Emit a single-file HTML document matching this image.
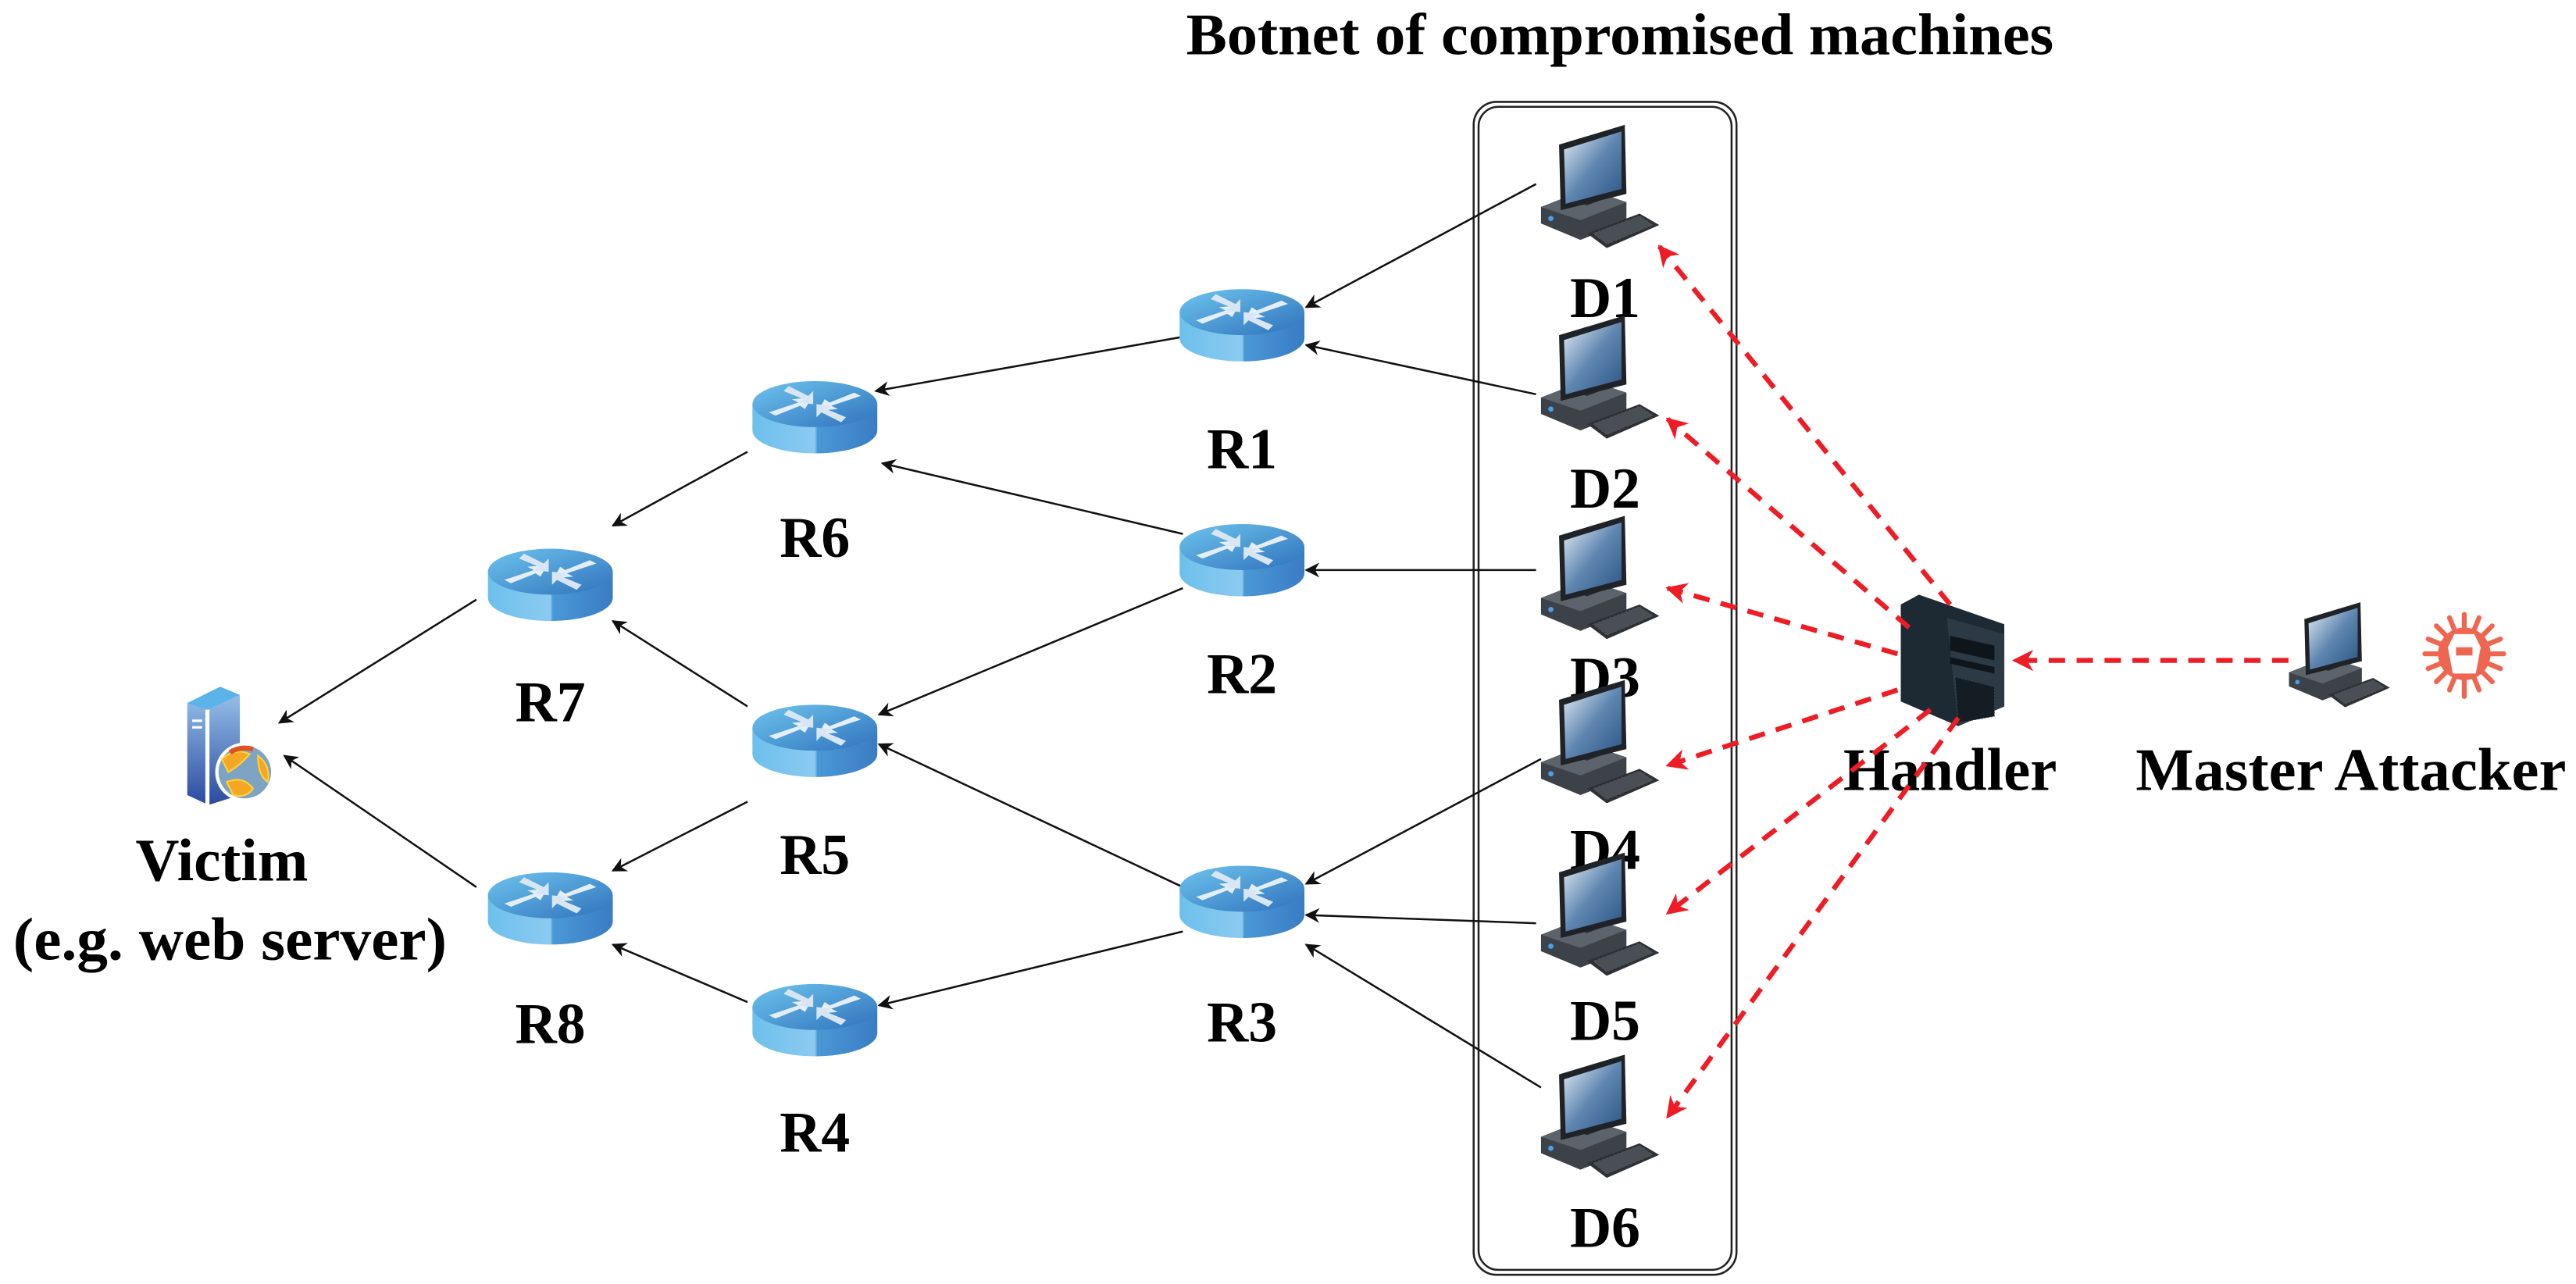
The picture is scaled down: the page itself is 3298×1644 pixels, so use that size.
<!DOCTYPE html>
<html><head><meta charset="utf-8"><style>
html,body{margin:0;padding:0;background:#fff;}
svg{display:block;}
text{font-family:"Liberation Serif",serif;font-weight:bold;fill:#000;}
</style></head><body>
<svg width="3298" height="1644" viewBox="0 0 1568 781.6" xmlns="http://www.w3.org/2000/svg">
<defs>
<linearGradient id="rb" x1="0" x2="1" y1="0" y2="0">
<stop offset="0" stop-color="#6cc0ec"/><stop offset="0.5" stop-color="#8ccaf0"/><stop offset="0.52" stop-color="#4a98d6"/><stop offset="1" stop-color="#3a7cc4"/></linearGradient>
<linearGradient id="rt" x1="0" x2="1" y1="0" y2="1">
<stop offset="0" stop-color="#6ec4ee"/><stop offset="1" stop-color="#2f72bc"/></linearGradient>
<linearGradient id="scr" x1="0" x2="1" y1="0" y2="1">
<stop offset="0" stop-color="#e6eef6"/><stop offset="0.5" stop-color="#5f86b0"/><stop offset="1" stop-color="#2b5586"/></linearGradient>
<linearGradient id="srv" x1="0" x2="0" y1="0" y2="1">
<stop offset="0" stop-color="#9cc8ee"/><stop offset="1" stop-color="#2a4aa0"/></linearGradient>
<symbol id="router" viewBox="-40 -24 80 48" overflow="visible">
<path d="M-38,-7 L-38,9 A38,14 0 0 0 38,9 L38,-7 Z" fill="url(#rb)"/>
<ellipse cx="0" cy="-7" rx="38" ry="14" fill="url(#rt)"/>
<path d="M-28,-2 L-10,-8 L-14,-10 L-2,-11 L-6,-4 L-9,-6 L-24,0 Z" fill="#e4eef8"/>
<path d="M28,-12 L10,-6 L14,-4 L2,-3 L6,-10 L9,-8 L24,-14 Z" fill="#e4eef8"/>
<path d="M-16,-18 L-4,-12 L-1,-15 L-1,-7 L-10,-8 L-7,-10 L-19,-15 Z" fill="#d8e6f4"/>
<path d="M16,4 L4,-2 L1,1 L1,-7 L10,-6 L7,-4 L19,1 Z" fill="#d8e6f4"/>
</symbol>
<symbol id="pc" viewBox="0 0 72 75" overflow="visible">
<path d="M0,46 L28,35 L52,43 L52,55 L24,66 L0,56 Z" fill="#3c4248"/>
<path d="M0,46 L28,35 L52,43 L24,54 Z" fill="#5c636b"/>
<circle cx="6" cy="53" r="1.6" fill="#4aa0e8"/>
<path d="M28,62 L60,50 L72,57 L40,71 Z" fill="#2e3236"/>
<path d="M31,62 L60,51 L69,57 L40,69 Z" fill="#4a4f55" stroke="#222" stroke-width="0.4" stroke-dasharray="1.5 1"/>
<path d="M20,42 L36,36 L44,39 L28,45 Z" fill="#2a2e33"/>
<path d="M11,8 L51,-4 L52,38 L12,48 Z" fill="#1f2327"/>
<path d="M14,11 L49,0 L49,35 L15,44 Z" fill="url(#scr)"/>
</symbol>
<marker id="ab" viewBox="0 0 10 10" refX="9" refY="5" markerWidth="9" markerHeight="9" markerUnits="userSpaceOnUse" orient="auto"><path d="M0,0 L10,5 L0,10 L3,5 Z" fill="#111"/></marker>
<marker id="ar" viewBox="0 0 10 10" refX="9" refY="5" markerWidth="13" markerHeight="13" markerUnits="userSpaceOnUse" orient="auto"><path d="M0,0 L10,5 L0,10 L3,5 Z" fill="#ee1c25"/></marker>
</defs>

<text x="986" y="33" font-size="36" text-anchor="middle" textLength="528" lengthAdjust="spacingAndGlyphs">Botnet of compromised machines</text>
<rect x="897" y="62" width="160" height="714" rx="14" fill="none" stroke="#222" stroke-width="1.2"/>
<rect x="900" y="65" width="154" height="708" rx="12" fill="none" stroke="#222" stroke-width="1.2"/>

<g stroke="#111" stroke-width="1.2" fill="none" marker-end="url(#ab)">
<line x1="935" y1="112" x2="795" y2="187"/>
<line x1="935" y1="240" x2="795" y2="210"/>
<line x1="720" y1="205" x2="533" y2="238"/>
<line x1="935" y1="347" x2="795" y2="347"/>
<line x1="720" y1="325" x2="537" y2="282"/>
<line x1="455" y1="275" x2="373" y2="320"/>
<line x1="720" y1="358" x2="535" y2="435"/>
<line x1="290" y1="365" x2="170" y2="440"/>
<line x1="455" y1="488" x2="373" y2="530"/>
<line x1="455" y1="430" x2="373" y2="378"/>
<line x1="290" y1="540" x2="173" y2="460"/>
<line x1="938" y1="462" x2="795" y2="538"/>
<line x1="720" y1="540" x2="535" y2="453"/>
<line x1="935" y1="562" x2="795" y2="557"/>
<line x1="938" y1="662" x2="795" y2="575"/>
<line x1="720" y1="567" x2="535" y2="612"/>
<line x1="455" y1="610" x2="373" y2="575"/>
</g>

<use href="#router" x="716" y="173" width="80" height="48"/>
<use href="#router" x="456" y="229" width="80" height="48"/>
<use href="#router" x="716" y="316" width="80" height="48"/>
<use href="#router" x="295" y="331" width="80" height="48"/>
<use href="#router" x="456" y="426" width="80" height="48"/>
<use href="#router" x="295" y="528" width="80" height="48"/>
<use href="#router" x="716" y="524" width="80" height="48"/>
<use href="#router" x="456" y="596" width="80" height="48"/>
<g font-size="35" text-anchor="middle">
<text x="756" y="285">R1</text>
<text x="496" y="339">R6</text>
<text x="756" y="422">R2</text>
<text x="335" y="439">R7</text>
<text x="496" y="532">R5</text>
<text x="335" y="635">R8</text>
<text x="756" y="634">R3</text>
<text x="496" y="701">R4</text>
</g>

<g font-size="35" text-anchor="middle">
<text x="977" y="193">D1</text>
<text x="977" y="309">D2</text>
<text x="977" y="424">D3</text>
<text x="977" y="529">D4</text>
<text x="977" y="633">D5</text>
<text x="977" y="759">D6</text>
</g>
<use href="#pc" x="938" y="80" width="72" height="75"/>
<use href="#pc" x="938" y="196" width="72" height="75"/>
<use href="#pc" x="938" y="318" width="72" height="75"/>
<use href="#pc" x="938" y="418" width="72" height="75"/>
<use href="#pc" x="938" y="523" width="72" height="75"/>
<use href="#pc" x="938" y="646" width="72" height="75"/>

<path d="M1157,368 L1168,362 L1220,380 L1220,430 L1192,442 L1157,427 Z" fill="#1e2a33"/>
<path d="M1185,376 L1220,386 L1220,430 L1192,442 Z" fill="#2c3a45"/>
<path d="M1187,387 L1214,393 L1214,402 L1187,396 Z" fill="#0e151b"/>
<path d="M1187,400 L1214,406 L1214,410 L1187,404 Z" fill="#0e151b"/>
<path d="M1190,412 L1214,418 L1214,436 L1192,440 Z" fill="#151d24" stroke="#3b4a56" stroke-width="0.4" stroke-dasharray="1 1"/>
<text x="1187" y="481" font-size="37" text-anchor="middle" textLength="130" lengthAdjust="spacingAndGlyphs">Handler</text>

<use href="#pc" x="1393" y="370" width="62" height="64"/>
<g fill="#ee6650">
<circle cx="1500" cy="398" r="16"/>
<g stroke="#ee6650" stroke-width="3" stroke-linecap="round">
<line x1="1500" y1="374" x2="1500" y2="424"/><line x1="1476" y1="398" x2="1524" y2="398"/>
<line x1="1483" y1="381" x2="1517" y2="415"/><line x1="1517" y1="381" x2="1483" y2="415"/>
<line x1="1491" y1="376" x2="1509" y2="420"/><line x1="1509" y1="376" x2="1491" y2="420"/>
<line x1="1478" y1="389" x2="1522" y2="407"/><line x1="1522" y1="389" x2="1478" y2="407"/>
</g>
</g>
<path d="M1494,386 L1506,386 L1510,394 L1507,410 L1493,410 L1490,394 Z" fill="#fff"/>
<rect x="1495" y="394" width="10" height="5" fill="#ee6650"/>
<text x="1431" y="481" font-size="37" text-anchor="middle" textLength="262" lengthAdjust="spacingAndGlyphs">Master Attacker</text>

<path d="M114,428 L134,418 L146,423 L146,484 L127,490 L114,484 Z" fill="url(#srv)"/>
<path d="M114,428 L134,418 L146,423 L126,432 Z" fill="#5ab4ea"/>
<rect x="125" y="432" width="2.5" height="58" fill="#fff"/>
<rect x="117" y="438" width="6" height="1.5" fill="#fff"/><rect x="117" y="442" width="6" height="1.5" fill="#fff"/>
<circle cx="149" cy="470" r="18" fill="#fff"/>
<circle cx="149" cy="470" r="16" fill="#7ea4c4"/>
<path d="M135,462 Q143,455 152,459 Q146,466 139,470 Z M138,476 Q148,472 154,480 Q150,486 142,484 Z M157,460 Q165,466 163,476 Q157,472 157,460 Z" fill="#f5a623" stroke="#ffd23a" stroke-width="1"/>
<path d="M140,458 Q146,454 154,456" stroke="#e05020" stroke-width="3" fill="none"/>
<text x="135" y="536" font-size="37" text-anchor="middle" textLength="105" lengthAdjust="spacingAndGlyphs">Victim</text>
<text x="140" y="584" font-size="37" text-anchor="middle" textLength="264" lengthAdjust="spacingAndGlyphs">(e.g. web server)</text>

<g stroke="#ee1c25" stroke-width="3" fill="none" stroke-dasharray="10 7" marker-end="url(#ar)">
<line x1="1187" y1="368" x2="1010" y2="150"/>
<line x1="1162" y1="382" x2="1015" y2="255"/>
<line x1="1155" y1="398" x2="1015" y2="358"/>
<line x1="1155" y1="420" x2="1015" y2="466"/>
<line x1="1175" y1="432" x2="1015" y2="556"/>
<line x1="1192" y1="437" x2="1015" y2="680"/>
<line x1="1393" y1="402" x2="1226" y2="402"/>
</g>
</svg>
</body></html>
